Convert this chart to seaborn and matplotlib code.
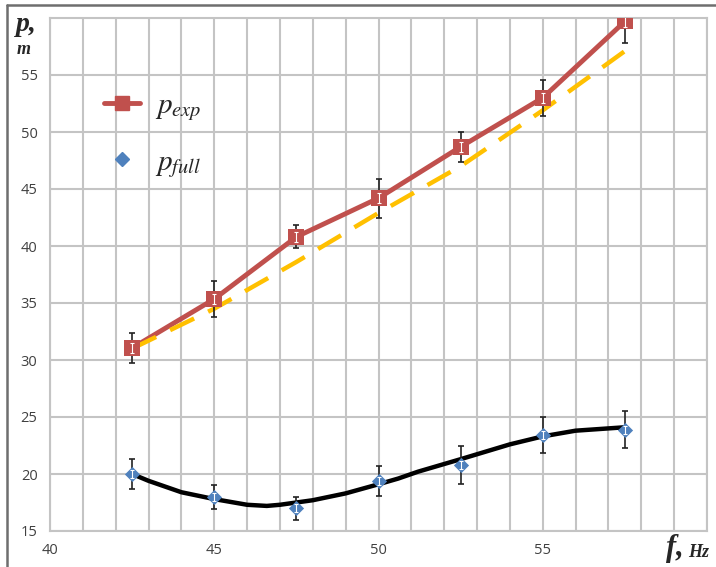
import numpy as np
import pandas as pd
import matplotlib
matplotlib.use("Agg")
import matplotlib.pyplot as plt
import seaborn as sns
from matplotlib.lines import Line2D
from matplotlib.ticker import MultipleLocator

# frequency, Hz
f = [42.5, 45, 47.5, 50, 52.5, 55, 57.5]

# measured head
p_exp = [31.05, 35.35, 40.8, 44.2, 48.7, 53.0, 59.7]
p_exp_err = [1.3, 1.6, 1.0, 1.7, 1.3, 1.6, 1.9]

# computed head
p_full = [20.0, 18.0, 17.0, 19.4, 20.8, 23.4, 23.9]
p_full_err = [1.3, 1.05, 1.0, 1.3, 1.65, 1.6, 1.65]

# yellow dashed trend
dash_f = [42.5, 45, 47.5, 50, 52.5, 55, 57.5]
dash_p = [31.0, 34.5, 38.6, 42.9, 47.0, 51.9, 57.1]

# black smooth curve
curve_f = [42.5, 43.0, 44.0, 45.0, 46.0, 46.6, 47.0, 48.0, 49.0, 50.0, 50.6,
           51.2, 52.5, 54.0, 55.0, 56.0, 57.5]
curve_p = [20.0, 19.4, 18.4, 17.8, 17.3, 17.2, 17.3, 17.7, 18.3, 19.1, 19.6,
           20.2, 21.3, 22.6, 23.3, 23.8, 24.1]

RED = "#C0504D"
BLUE = "#4F81BD"
GOLD = "#FFC000"
GRID = "#C4C4C4"

sns.set_style("white")
plt.rcParams["mathtext.fontset"] = "stix"
plt.rcParams["font.family"] = ["Open Sans", "DejaVu Sans"]

fig = plt.figure(figsize=(7.16, 5.67), dpi=100)
ax = fig.add_axes([50 / 716, 36 / 567, 657 / 716, 513 / 567])

df_exp = pd.DataFrame({"f": f, "p": p_exp})
df_full = pd.DataFrame({"f": f, "p": p_full})
df_dash = pd.DataFrame({"f": dash_f, "p": dash_p})
df_curve = pd.DataFrame({"f": curve_f, "p": curve_p})

# lines
sns.lineplot(data=df_exp, x="f", y="p", ax=ax, color=RED, lw=3.5, zorder=3)
sns.lineplot(data=df_dash, x="f", y="p", ax=ax, color=GOLD, lw=3.2,
             dashes=False, zorder=4).lines[-1].set_dashes([6, 3.5])
sns.lineplot(data=df_curve, x="f", y="p", ax=ax, color="black", lw=3.2, zorder=3)

# error bars
ax.errorbar(f, p_exp, yerr=p_exp_err, fmt="none", ecolor="#222222",
            elinewidth=1.2, capsize=2.5, capthick=1.2, zorder=5)
ax.errorbar(f, p_full, yerr=p_full_err, fmt="none", ecolor="#222222",
            elinewidth=1.2, capsize=2.5, capthick=1.2, zorder=5)

# markers
sns.scatterplot(data=df_exp, x="f", y="p", ax=ax, marker="s", s=120,
                color=RED, edgecolor=RED, linewidth=0, zorder=6)
sns.scatterplot(data=df_full, x="f", y="p", ax=ax, marker="D", s=60,
                color=BLUE, edgecolor=BLUE, linewidth=0, zorder=6)
# thin light error line through markers
ax.errorbar(f, p_exp, yerr=[0.45] * 7, fmt="none", ecolor="white",
            elinewidth=0.8, capsize=1.5, capthick=0.8, zorder=7)
ax.errorbar(f, p_full, yerr=[0.35] * 7, fmt="none", ecolor="white",
            elinewidth=0.8, capsize=1.2, capthick=0.8, zorder=7)

ax.set_xlim(40, 60)
ax.set_ylim(15, 60)
ax.xaxis.set_major_locator(MultipleLocator(5))
ax.xaxis.set_minor_locator(MultipleLocator(1))
ax.yaxis.set_major_locator(MultipleLocator(5))
ax.grid(which="major", color=GRID, lw=1.5)
ax.grid(which="minor", axis="x", color=GRID, lw=1.5)
ax.set_axisbelow(True)
for s in ax.spines.values():
    s.set_color(GRID)
    s.set_linewidth(1.5)

ax.set_xticks([40, 45, 50, 55])
ax.set_yticks([15, 20, 25, 30, 35, 40, 45, 50, 55])
ax.tick_params(axis="both", which="major", length=5, width=1.2, color="#9A9A9A",
               labelsize=10.5, labelcolor="#404040", pad=4)
ax.tick_params(axis="x", which="minor", length=0)
ax.set_xlabel("")
ax.set_ylabel("")

# axis captions
fig.text(16 / 716, 1 - 31 / 567, "p,", fontsize=20, style="italic", weight="bold",
         family="Liberation Serif", ha="left", va="baseline")
fig.text(17 / 716, 1 - 54 / 567, "m", fontsize=13, style="italic", weight="bold",
         family="Liberation Serif", ha="left", va="baseline")
fig.text(666 / 716, 1 - 556 / 567, "f,", fontsize=22, style="italic", weight="bold",
         family="Liberation Serif", ha="left", va="baseline")
fig.text(688 / 716, 1 - 557 / 567, "Hz", fontsize=13, style="italic", weight="bold",
         family="Liberation Serif", ha="left", va="baseline")

# legend
handles = [
    Line2D([], [], color=RED, lw=3.5, marker="s", ms=10.5, mec=RED),
    Line2D([], [], color=BLUE, lw=0, marker="D", ms=7, mec=BLUE),
]
fig.legend(handles, ["$p_{exp}$", "$p_{full}$"], loc="upper left",
           bbox_to_anchor=(104 / 716, 1 - 91 / 567), frameon=False,
           borderpad=0, borderaxespad=0,
           fontsize=21, handlelength=1.25, handletextpad=0.5, labelspacing=0.85)

# outer frame (top and left edges)
fig.add_artist(Line2D([7 / 716, 1], [1 - 5 / 567, 1 - 5 / 567], color="#6E6E6E",
                      lw=1.8, transform=fig.transFigure))
fig.add_artist(Line2D([7 / 716, 7 / 716], [0, 1 - 5 / 567], color="#6E6E6E",
                      lw=1.8, transform=fig.transFigure))

fig.savefig("out.png", dpi=100)
